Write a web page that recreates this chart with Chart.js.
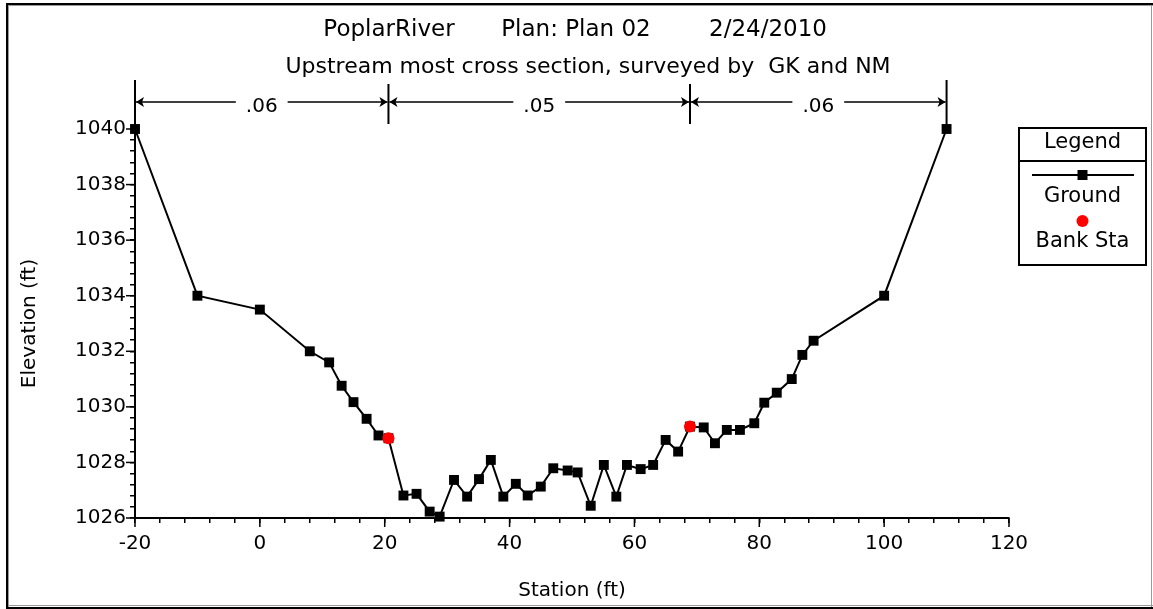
<!DOCTYPE html>
<html>
<head>
<meta charset="utf-8">
<script src="https://cdn.jsdelivr.net/npm/chart.js@4"></script>
<style>
  html, body { margin:0; padding:0; background:#fff; }
  #wrap { width:1153px; height:609px; }
</style>
</head>
<body>
<div id="wrap"><canvas id="chart" width="1153" height="609"></canvas></div>
<script>
// Données de la section
const stations = [-20,-10,0,8,11.1,13.1,15,17.1,19,20.6,23,25.1,27.2,28.8,31.1,33.2,35.1,37,39,41,
  42.9,45,47,49.3,50.9,53,55.1,57.1,58.8,61,63,65,67,68.9,71.1,72.9,74.8,76.9,79.2,80.8,
  82.8,85.2,86.9,88.7,100,110];
const elevations = [1040,1034,1033.5,1032,1031.6,1030.76,1030.17,1029.57,1028.97,1028.87,
  1026.81,1026.87,1026.23,1026.05,1027.37,1026.77,1027.4,1028.09,1026.77,1027.23,
  1026.81,1027.13,1027.79,1027.71,1027.64,1026.44,1027.91,1026.77,1027.91,1027.76,
  1027.91,1028.81,1028.39,1029.29,1029.26,1028.69,1029.17,1029.17,1029.41,1030.15,
  1030.51,1031.0,1031.87,1032.38,1034,1040];
const bankStations = [20.6, 68.9];
const bankElevations = [1028.87, 1029.29];
const nBreaks = [-20, 20.6, 68.9, 110];
const nValues = [".06", ".05", ".06"];

const titleParts = ["PoplarRiver", "Plan: Plan 02", "2/24/2010"];
const subtitleText = "Upstream most cross section, surveyed by  GK and NM";
const xLabel = "Station (ft)";
const yLabel = "Elevation (ft)";
const legendTitle = "Legend";
const legendNames = ["Ground", "Bank Sta"];

const FONT = "DejaVu Sans";
const groundPts = stations.map((x,i)=>({x, y: elevations[i]}));
const bankPts = bankStations.map((x,i)=>({x, y: bankElevations[i]}));

const isMajor = (v, step) => Math.abs(v/step - Math.round(v/step)) < 1e-6;

// Décor : cadre, titres, n de Manning, légende
const decor = {
  id: "decor",
  beforeDraw(chart){
    const c = chart.ctx;
    c.save();
    c.fillStyle = "#fff";
    c.fillRect(0,0,chart.width,chart.height);
    c.fillStyle = "#000";
    c.fillRect(6,3,chart.width-6,2);
    c.fillRect(6,3,2,chart.height-3);
    c.fillRect(6,chart.height-2,chart.width-6,2);
    c.fillStyle = "#999";
    c.fillRect(8,5,chart.width-8,1);
    c.fillRect(8,5,1,chart.height-7);
    c.fillRect(8,chart.height-4,chart.width-8,1);
    c.fillRect(chart.width-2,5,1,chart.height-7);
    c.restore();
  },
  afterDraw(chart){
    const c = chart.ctx;
    const xs = chart.scales.x, ys = chart.scales.y;
    const area = chart.chartArea;
    c.save();
    c.fillStyle = "#000";
    c.strokeStyle = "#000";

    // titres
    c.font = `23px "${FONT}"`;
    c.textBaseline = "alphabetic";
    c.textAlign = "center";
    c.fillText(titleParts[0], 389, 36);
    c.fillText(titleParts[1], 576, 36);
    c.fillText(titleParts[2], 768, 36);
    c.font = `22px "${FONT}"`;
    c.fillText(subtitleText, 588, 73);

    // graduations majeures plus longues
    c.lineWidth = 1.5;
    xs.ticks.forEach(t=>{
      if(!isMajor(t.value,20)) return;
      const px = xs.getPixelForValue(t.value);
      c.beginPath(); c.moveTo(px, area.bottom); c.lineTo(px, area.bottom+9); c.stroke();
    });
    ys.ticks.forEach(t=>{
      if(!isMajor(t.value,2)) return;
      const py = ys.getPixelForValue(t.value);
      c.beginPath(); c.moveTo(area.left, py); c.lineTo(area.left-9, py); c.stroke();
    });

    // coefficients de Manning
    const lineY = 102;
    c.lineWidth = 2;
    nBreaks.forEach(s=>{
      const px = xs.getPixelForValue(s);
      const ends = (s===nBreaks[0] || s===nBreaks[nBreaks.length-1]);
      c.beginPath(); c.moveTo(px, ends ? 80 : 84); c.lineTo(px, ends ? area.top : 124); c.stroke();
    });
    c.font = `20px "${FONT}"`;
    c.textBaseline = "middle";
    nValues.forEach((n,i)=>{
      const a = xs.getPixelForValue(nBreaks[i]);
      const b = xs.getPixelForValue(nBreaks[i+1]);
      const mid = (a+b)/2;
      const half = c.measureText(n).width/2 + 10;
      c.lineWidth = 1.5;
      c.beginPath();
      c.moveTo(a+1, lineY); c.lineTo(mid-half, lineY);
      c.moveTo(mid+half, lineY); c.lineTo(b-1, lineY);
      c.stroke();
      // pointes de flèche
      c.beginPath();
      c.moveTo(a+1, lineY); c.lineTo(a+9, lineY-5); c.lineTo(a+7, lineY); c.lineTo(a+9, lineY+5); c.closePath();
      c.moveTo(b-1, lineY); c.lineTo(b-9, lineY-5); c.lineTo(b-7, lineY); c.lineTo(b-9, lineY+5); c.closePath();
      c.fill();
      c.fillText(n, mid, lineY+5);
    });

    // légende
    const L = 1019, T = 128, R = 1146, B = 265, cx = (L+R)/2;
    c.lineWidth = 2;
    c.strokeRect(L, T, R-L, B-T);
    c.beginPath(); c.moveTo(L, 161); c.lineTo(R, 161); c.stroke();
    c.font = `21px "${FONT}"`;
    c.textAlign = "center";
    c.fillText(legendTitle, cx, 143);
    c.lineWidth = 2;
    c.beginPath(); c.moveTo(L+13, 175); c.lineTo(R-12, 175); c.stroke();
    c.fillRect(cx-5, 170, 10, 10);
    c.fillText(legendNames[0], cx, 197);
    c.fillStyle = "#ff0000";
    c.beginPath(); c.arc(cx, 221, 6, 0, Math.PI*2); c.fill();
    c.fillStyle = "#000";
    c.fillText(legendNames[1], cx, 242);
    c.restore();
  }
};

const tickFont = { family: FONT, size: 20 };

new Chart(document.getElementById("chart").getContext("2d"), {
  type: "scatter",
  data: {
    datasets: [
      { label: legendNames[1], data: bankPts, pointStyle: "circle", pointRadius: 6,
        backgroundColor: "#ff0000", borderColor: "#ff0000", borderWidth: 0, showLine: false, clip: false },
      { label: legendNames[0], data: groundPts, showLine: true, borderColor: "#000", borderWidth: 2,
        pointStyle: "rect", pointRadius: 7, backgroundColor: "#000", pointBorderWidth: 0, clip: false }
    ]
  },
  options: {
    responsive: false,
    animation: false,
    events: [],
    layout: { padding: { top: 129, right: 144, left: 0, bottom: 0 } },
    plugins: { legend: { display: false }, tooltip: { enabled: false } },
    scales: {
      x: {
        type: "linear", min: -20, max: 120,
        border: { color: "#000", width: 2 },
        grid: { drawOnChartArea: false, color: "#000", tickLength: 5, lineWidth: 1.5 },
        ticks: { stepSize: 4, autoSkip: false, maxRotation: 0, color: "#000", font: tickFont, padding: 9,
          callback: v => isMajor(v,20) ? String(Math.round(v)) : "" },
        title: { display: true, text: xLabel, color: "#000", font: tickFont, padding: { top: 0, bottom: 6 } },
        afterFit: s => { s.height = 91; }
      },
      y: {
        type: "linear", min: 1026, max: 1040,
        border: { color: "#000", width: 2 },
        grid: { drawOnChartArea: false, color: "#000", tickLength: 5, lineWidth: 1.5 },
        ticks: { stepSize: 0.4, autoSkip: false, color: "#000", font: tickFont, padding: 4,
          callback: v => isMajor(v,2) ? String(Math.round(v)) : "" },
        title: { display: true, text: yLabel, color: "#000", font: tickFont, padding: { top: 18, bottom: 0 } },
        afterFit: s => { s.width = 135; }
      }
    }
  },
  plugins: [decor]
});
</script>
</body>
</html>
